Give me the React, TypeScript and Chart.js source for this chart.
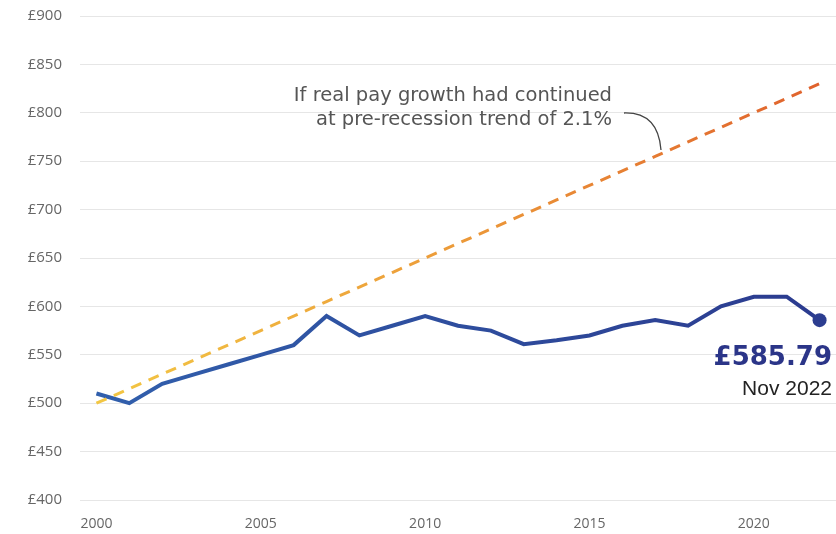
import React, { useEffect, useRef } from "react";
import { Chart, registerables } from "chart.js";

Chart.register(...registerables);

const years = ["2000","2001","2002","2003","2004","2005","2006","2007","2008","2009","2010","2011","2012","2013","2014","2015","2016","2017","2018","2019","2020","2021","2022"];
const actualPay = [510, 500, 520, 530, 540, 550, 560, 590, 570, 580, 590, 580, 575, 561, 565, 570, 580, 586, 580, 600, 610, 610, 585.79];
const trendPay = [500, 515, 530, 545, 560, 575, 590, 605, 620, 635, 650, 665, 680, 695, 710, 725, 740, 755, 770, 785, 800, 815, 830];
const yTicks = [400, 450, 500, 550, 600, 650, 700, 750, 800, 850, 900];
const annotationLines = ["If real pay growth had continued", "at pre-recession trend of 2.1%"];
const endValueLabel = "£585.79";
const endDateLabel = "Nov 2022";

const FONT = "'Open Sans', sans-serif";

const labelsPlugin = {
  id: "labelsPlugin",
  afterDatasetsDraw(chart: any) {
    const { ctx, scales } = chart;
    const y = scales.y;
    ctx.save();
    // annotation text
    ctx.fillStyle = "#555555";
    ctx.font = `19.5px 'DejaVu Sans', sans-serif`;
    ctx.textAlign = "right";
    ctx.textBaseline = "middle";
    const tx = 612;
    ctx.fillText(annotationLines[0], tx, 96);
    ctx.fillText(annotationLines[1], tx, 120);
    // curved arrow line
    ctx.strokeStyle = "#444444";
    ctx.lineWidth = 1.3;
    ctx.beginPath();
    ctx.moveTo(624, 113);
    ctx.quadraticCurveTo(658, 112, 661, 150);
    ctx.stroke();
    // end label
    const lastIdx = actualPay.length - 1;
    const py = y.getPixelForValue(actualPay[lastIdx]);
    ctx.textAlign = "right";
    ctx.fillStyle = "#2b3588";
    ctx.font = `bold 26px 'DejaVu Sans', sans-serif`;
    ctx.fillText(endValueLabel, 832, py + 38);
    ctx.fillStyle = "#222222";
    ctx.font = `21px 'Liberation Sans', Arial, sans-serif`;
    ctx.fillText(endDateLabel, 832, py + 69);
    ctx.restore();
  },
};

export default function App() {
  const ref = useRef<HTMLCanvasElement>(null);
  useEffect(() => {
    document.body.style.margin = "0";
    const canvas = ref.current!;
    const chart = new Chart(canvas, {
      type: "line",
      data: {
        labels: years,
        datasets: [
          {
            data: trendPay,
            borderWidth: 3,
            borderDash: [11, 8],
            pointRadius: 0,
            tension: 0,
            borderColor: (c: any) => {
              const area = c.chart.chartArea;
              if (!area) return "#eb9a3a";
              const g = c.chart.ctx.createLinearGradient(area.left, 0, area.right, 0);
              g.addColorStop(0, "#f3c944");
              g.addColorStop(0.5, "#ec9a39");
              g.addColorStop(1, "#df5f2c");
              return g;
            },
          },
          {
            data: actualPay,
            borderWidth: 4,
            tension: 0,
            pointRadius: actualPay.map((_, i) => (i === actualPay.length - 1 ? 7 : 0)),
            pointBackgroundColor: "#2c3d90",
            pointBorderWidth: 0,
            borderColor: (c: any) => {
              const area = c.chart.chartArea;
              if (!area) return "#2d4898";
              const g = c.chart.ctx.createLinearGradient(area.left, 0, area.right, 0);
              g.addColorStop(0, "#3160ad");
              g.addColorStop(1, "#2b3a8e");
              return g;
            },
          },
        ],
      },
      options: {
        animation: false,
        responsive: false,
        layout: { autoPadding: false, padding: { top: 16, right: 0, left: 0, bottom: 0 } },
        plugins: { legend: { display: false }, tooltip: { enabled: false } },
        scales: {
          x: {
            type: "category",
            offset: true,
            grid: { display: true, color: "transparent", drawTicks: true, tickLength: 16, tickColor: "transparent" },
            border: { display: false },
            ticks: {
              autoSkip: false,
              maxRotation: 0,
              color: "#666666",
              font: { family: FONT, size: 14 },
              padding: 0,
              callback: (v: any, i: number) => (Number(years[i]) % 5 === 0 ? years[i] : ""),
            },
            afterFit: (s: any) => { s.height = 34; },
          },
          y: {
            min: 400,
            max: 900,
            afterBuildTicks: (s: any) => { s.ticks = yTicks.map((v) => ({ value: v })); },
            grid: { color: "#e6e6e6", lineWidth: 1, drawTicks: true, tickLength: 18, tickColor: "transparent" },
            border: { display: false },
            ticks: {
              color: "#666666",
              font: { family: FONT, size: 15 },
              padding: 0,
              callback: (v: any) => "£" + v,
            },
            afterFit: (s: any) => { s.width = 80; },
          },
        },
      },
      plugins: [labelsPlugin],
    });
    return () => chart.destroy();
  }, []);
  return <canvas ref={ref} width={836} height={534} style={{ display: "block" }} />;
}
